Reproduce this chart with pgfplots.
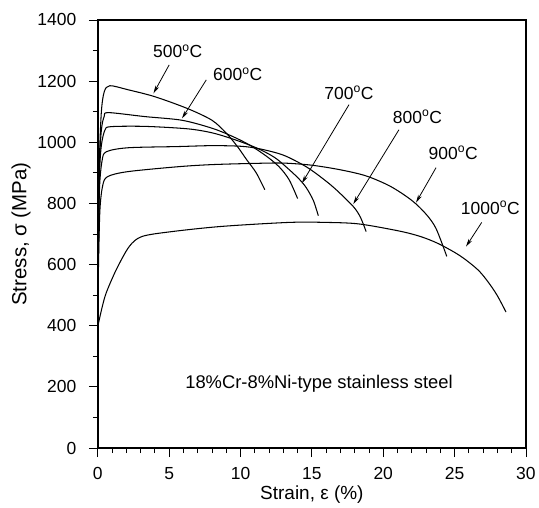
\documentclass[border=0pt]{standalone}
\usepackage{pgfplots}
\pgfplotsset{compat=1.18}
\usepackage{fontspec}
\setmainfont{Liberation Sans}
\usetikzlibrary{arrows.meta}
\begin{document}
\begin{tikzpicture}
\begin{axis}[
  scale only axis, width=429pt, height=429pt,
  xmin=0, xmax=30, ymin=0, ymax=1400,
  xtick={0,5,...,30}, ytick={0,200,...,1400},
  minor x tick num=4, minor y tick num=1,
  tick align=outside, xtick pos=bottom, ytick pos=left,
  major tick length=9pt, minor tick length=5pt,
  axis line style={line width=1.8pt},
  every tick/.style={black, line width=0.9pt},
  /pgf/number format/assume math mode=true,
  /pgf/number format/1000 sep={},
  ticklabel style={font=\fontsize{17.5}{19}\selectfont},
  yticklabel style={xshift=-9pt},
  xticklabel style={yshift=-7pt},
  xlabel={Strain, ε (\%)}, ylabel={Stress, σ (MPa)},
  xlabel style={font=\fontsize{19}{21}\selectfont, at={([yshift=-47pt]rel axis cs:0.5,0)}, anchor=center},
  ylabel style={font=\fontsize{20.5}{22}\selectfont, at={([xshift=-77pt]rel axis cs:0,0.5)}, anchor=center},
  clip=false,
  crv/.style={black, line width=1.05pt, smooth, tension=0.5, no marks},
]
% 500 C
\addplot[crv] coordinates {(0,420) (0.05,700) (0.12,950) (0.25,1100) (0.45,1165) (0.84,1185) (2.1,1172) (4.0,1149) (6.3,1110) (8.0,1072) (9.0,1030) (9.8,985) (10.4,945) (11.1,900) (11.7,845)};
% 600 C
\addplot[crv] coordinates {(0,420) (0.05,700) (0.12,930) (0.25,1040) (0.45,1085) (0.75,1097) (3.3,1084) (5.9,1072) (8.0,1046) (9.4,1020) (10.6,992) (11.8,955) (12.7,920) (13.4,878) (14.0,816)};
% 700 C
\addplot[crv] coordinates {(0,420) (0.05,700) (0.12,900) (0.25,990) (0.5,1040) (0.9,1051) (3.3,1052) (6.3,1044) (8.0,1031) (9.5,1010) (11.1,982) (12.4,950) (13.4,911) (14.1,880) (14.6,852) (15.1,810) (15.45,760)};
% 800 C
\addplot[crv] coordinates {(0,400) (0.05,650) (0.12,850) (0.3,940) (0.6,969) (2.1,982) (5.6,986) (8.0,989) (10.0,987) (11.3,979) (13.0,958) (14.6,920) (15.8,880) (16.7,845) (17.9,790) (18.4,755) (18.8,708)};
% 900 C
\addplot[crv] coordinates {(0,400) (0.05,600) (0.15,780) (0.35,860) (0.7,888) (2.1,904) (5.6,920) (8.0,927) (11.0,931) (13.0,932) (15.0,925) (17.0,910) (18.8,890) (20.5,856) (22.0,810) (23.0,765) (23.7,718) (24.45,627)};
% 1000 C
\addplot[crv] coordinates {(0,398) (0.3,460) (0.6,509) (1.3,584) (2.2,659) (3.1,692) (5.2,708) (8.7,725) (13.4,738) (16.0,738) (18.3,733) (21.1,710) (22.6,692) (23.8,670) (25.0,640) (25.8,615) (26.7,580) (27.4,540) (28.0,498) (28.6,445)};

\tikzset{lbl/.style={font=\fontsize{17.5}{19}\selectfont, inner sep=0pt},
         arr/.style={-{Stealth[length=8pt,width=4pt]}, line width=0.8pt}}
\node[lbl] at (axis cs:5.6,1297) {500\textsuperscript{o}C};
\draw[arr] (axis cs:5.0,1253) -- (axis cs:3.9,1160);
\node[lbl] at (axis cs:9.8,1222) {600\textsuperscript{o}C};
\draw[arr] (axis cs:7.6,1204) -- (axis cs:5.9,1078);
\node[lbl] at (axis cs:17.6,1162) {700\textsuperscript{o}C};
\draw[arr] (axis cs:17.6,1123) -- (axis cs:14.3,866);
\node[lbl] at (axis cs:22.4,1083) {800\textsuperscript{o}C};
\draw[arr] (axis cs:21.1,1041) -- (axis cs:17.9,798);
\node[lbl] at (axis cs:24.9,966) {900\textsuperscript{o}C};
\draw[arr] (axis cs:23.7,917) -- (axis cs:22.3,803);
\node[lbl] at (axis cs:27.5,786) {1000\textsuperscript{o}C};
\draw[arr] (axis cs:26.9,738) -- (axis cs:25.8,659);
\node[font=\fontsize{18.4}{20}\selectfont] at (axis cs:15.5,209) {18\%Cr-8\%Ni-type stainless steel};
% page extent matching the reference margins
\path ([xshift=-98pt,yshift=-59pt]rel axis cs:0,0) ([xshift=12pt,yshift=20pt]rel axis cs:1,1);
\end{axis}
\end{tikzpicture}
\end{document}
